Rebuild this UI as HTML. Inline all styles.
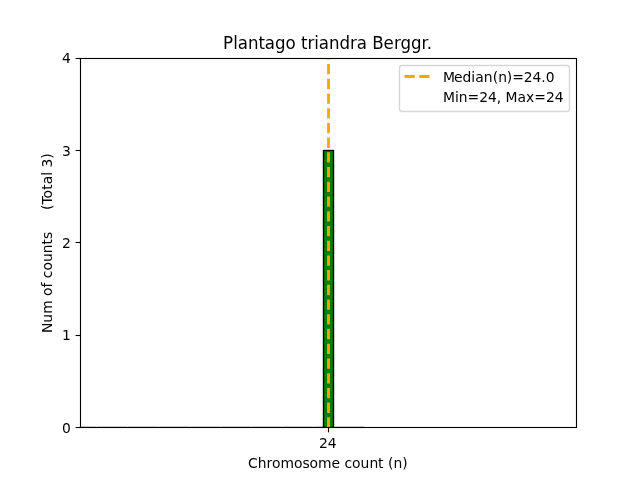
<!DOCTYPE html>
<html lang="en">
<head>
<meta charset="utf-8">
<title>Plantago triandra Berggr.</title>
<style>
html,body{margin:0;padding:0;background:#fff;}
body{width:640px;height:480px;overflow:hidden;}
svg{display:block;}
text{font-family:"DejaVu Sans","Liberation Sans",sans-serif;fill:#000;white-space:pre;}
.t10{font-size:13.889px;}
.t12{font-size:16.667px;}
</style>
</head>
<body>
<svg width="640" height="480" viewBox="0 0 640 480">
  <defs><clipPath id="axclip"><rect x="80" y="57.6" width="496" height="369.6"/></clipPath></defs>
  <rect x="0" y="0" width="640" height="480" fill="#ffffff"/>
  <!-- zero-height bars along the baseline (clipped to the axes) -->
  <path d="M80 427.20H96 M97 427.20H127 M128 427.20H158 M159 427.20H189 M190 427.20H220 M221 427.20H251 M252 427.20H282 M283 427.20H313 M314 427.20H364.2" fill="none" stroke="#000" stroke-width="0.6"/>
  <!-- bar -->
  <rect x="323.5" y="150.5" width="10" height="277" fill="#008000" stroke="#000" stroke-width="1.389" clip-path="url(#axclip)"/>
  <!-- median line -->
  <path d="M328.5 427.6 L328.5 58.5" fill="none" stroke="#ffa500" stroke-width="2.778" stroke-dasharray="10.278 4.444"/>
  <!-- ticks -->
  <g stroke="#000" stroke-width="1.111" fill="none">
    <path d="M328.5 427.5 V432.36"/>
    <path d="M80.5 427.5 H75.64"/>
    <path d="M80.5 335.5 H75.64"/>
    <path d="M80.5 242.5 H75.64"/>
    <path d="M80.5 150.5 H75.64"/>
    <path d="M80.5 58.5 H75.64"/>
  </g>
  <!-- spines -->
  <rect x="80.5" y="58.5" width="496" height="369" fill="none" stroke="#000" stroke-width="1.111"/>
  <!-- tick labels -->
  <text class="t10" x="318.95 327.70" y="448.4">24</text>
  <text class="t10" x="70.8" y="433.2" text-anchor="end">0</text>
  <text class="t10" x="70.8" y="340.1" text-anchor="end">1</text>
  <text class="t10" x="70.8" y="247.7" text-anchor="end">2</text>
  <text class="t10" x="70.8" y="156.2" text-anchor="end">3</text>
  <text class="t10" x="70.8" y="62.9" text-anchor="end">4</text>
  <!-- axis labels -->
  <text class="t10" x="247.93 257.68 266.43 271.93 280.43 293.93 302.43 309.55 318.05 331.55 340.05 344.43 352.05 360.55 369.55 378.05 383.55 387.93 393.43 402.18" y="468.45">Chromosome count (n)</text>
  <text class="t10" x="-89.38 -79.25 -70.25 -56.75 -52.38 -43.88 -38.88 -34.75 -26.88 -18.38 -9.62 -0.88 4.62 11.75 16.12 20.50 24.88 29.25 33.62 39.12 45.00 53.75 59.25 67.88 71.75 76.12 84.88" y="0" transform="translate(52 243.6) rotate(-90)" xml:space="preserve">Num of counts     (Total 3)</text>
  <!-- title -->
  <text class="t12" x="223.03 233.15 237.78 247.90 258.40 264.65 275.02 285.52 295.65 300.90 307.40 314.27 318.65 329.02 339.52 350.02 356.65 367.02 372.27 383.40 393.90 400.52 411.02 421.52 426.65" y="0" transform="translate(0 49) scale(1 1.1)">Plantago triandra Berggr.</text>
  <!-- legend -->
  <rect x="399.5" y="65.5" width="170" height="46" rx="2.78" ry="2.78" fill="#ffffff" fill-opacity="0.8" stroke="#cccccc" stroke-opacity="0.8" stroke-width="1.389"/>
  <path d="M404.5 76.5 H432.28" fill="none" stroke="#ffa500" stroke-width="2.778" stroke-dasharray="10.278 4.444"/>
  <text class="t10" x="442.93 453.93 462.43 471.30 475.18 483.80 492.80 498.30 506.80 512.17 523.80 532.55 541.30 545.67" y="81.65">Median(n)=24.0</text>
  <text class="t10" x="443.00 455.00 458.75 467.62 479.25 488.00 496.75 501.12 505.50 517.50 526.12 534.25 546.00 554.75" y="102.04">Min=24, Max=24</text>
</svg>
</body>
</html>
